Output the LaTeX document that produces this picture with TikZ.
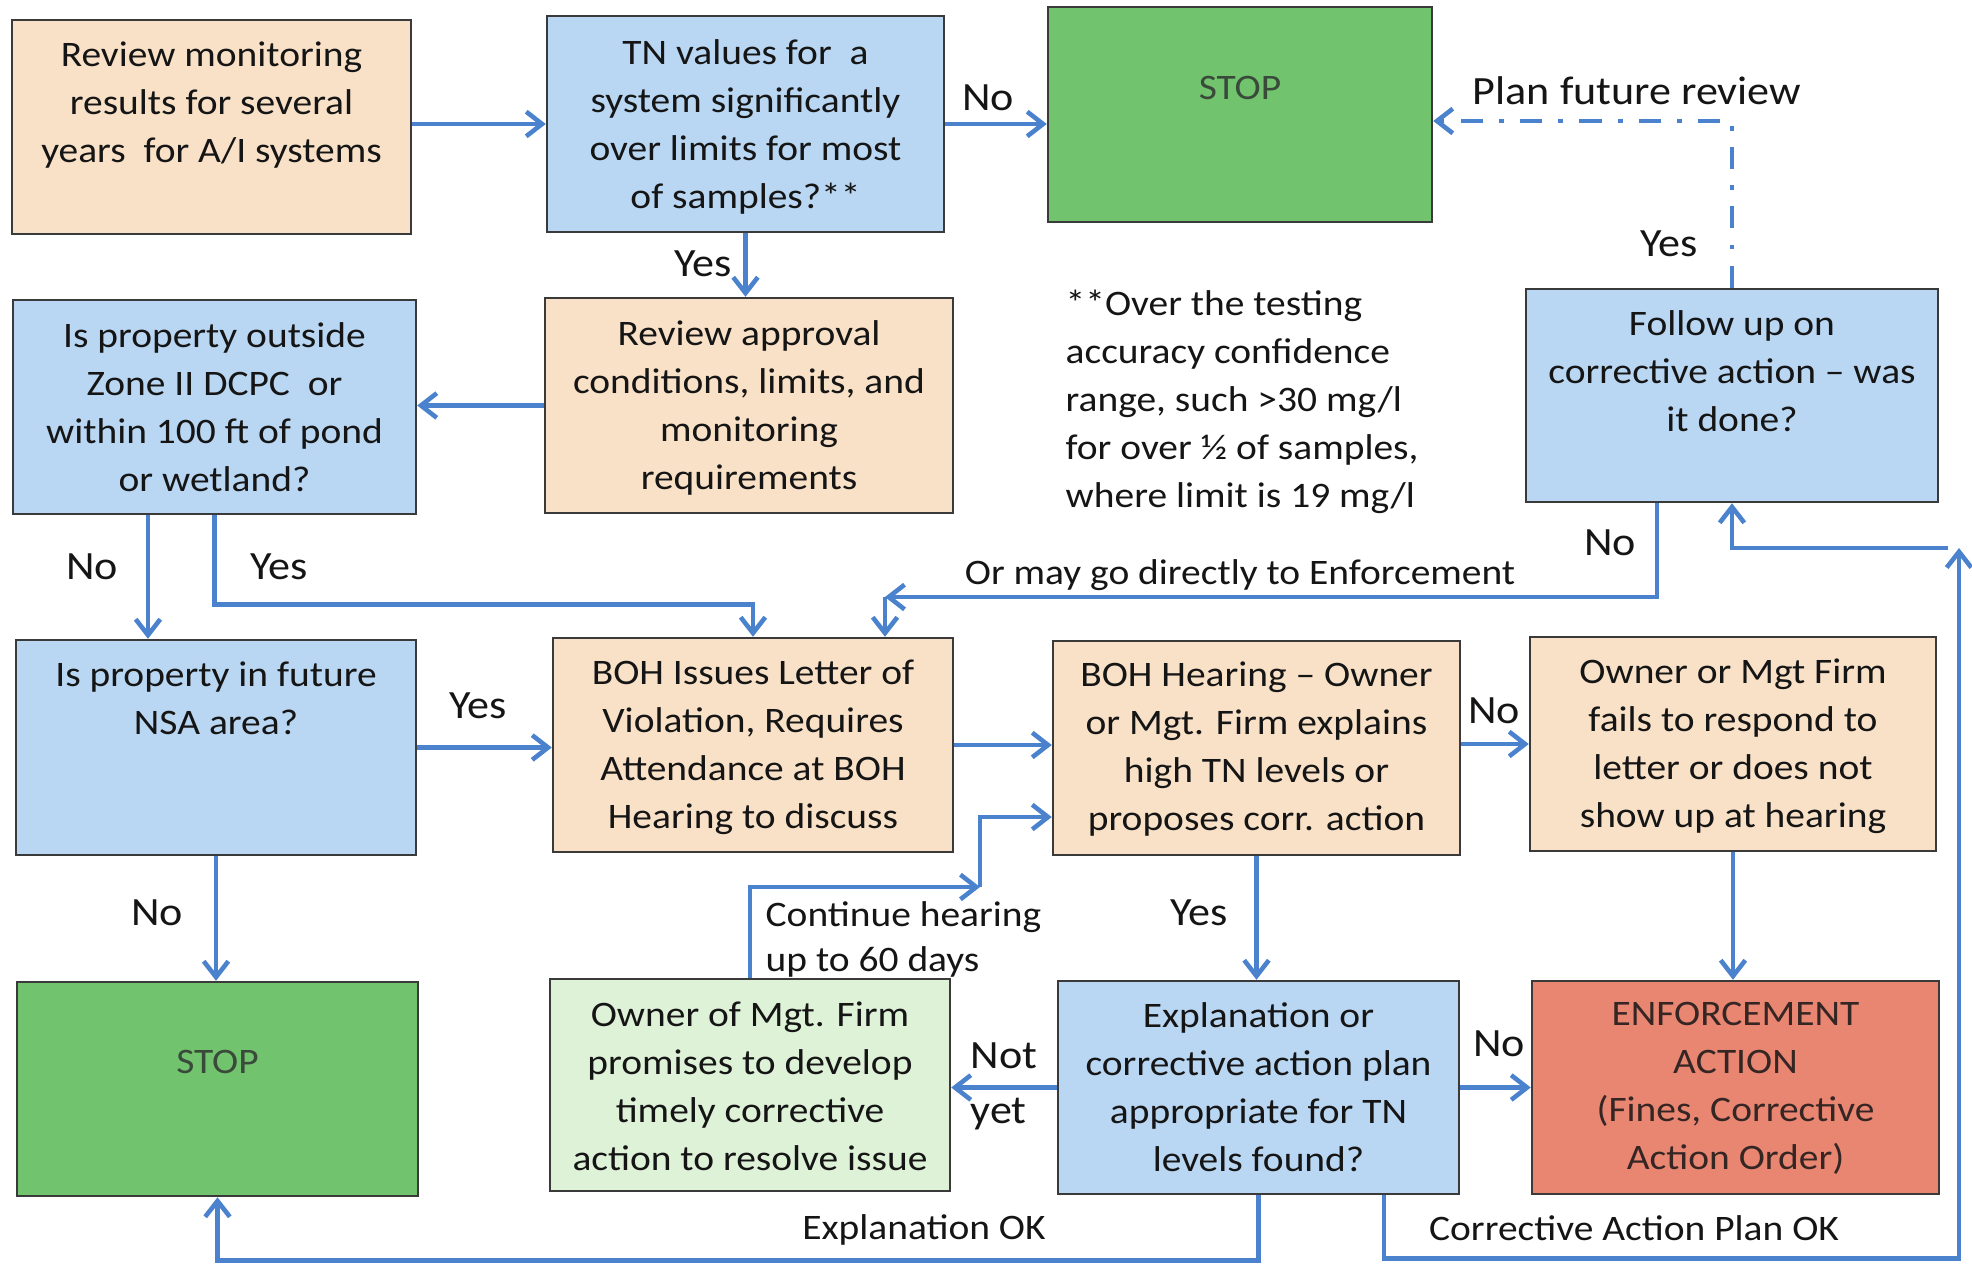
\documentclass[tikz,border=0pt]{standalone}
\usepackage{fontspec}
\setmainfont{Carlito}[FakeStretch=1.1]
\usetikzlibrary{arrows.meta,calc,fit}
\definecolor{peach}{HTML}{F9E1C8}
\definecolor{blu}{HTML}{B9D6F2}
\definecolor{stopg}{HTML}{72C36E}
\definecolor{lgreen}{HTML}{DEF2D8}
\definecolor{enf}{HTML}{E88672}
\definecolor{lineblue}{HTML}{4A82CD}
\definecolor{boxline}{HTML}{3A3A3A}
\definecolor{ink}{HTML}{151515}
\definecolor{stoptext}{HTML}{3A4A3A}
\begin{document}
\begin{tikzpicture}[x=0.01cm,y=-0.01cm,
  box/.style={draw=boxline,line width=0.7pt,inner sep=0pt},
  txt/.style={inner sep=0pt,align=center,text=ink,font=\fontsize{10.2pt}{13.66pt}\selectfont},
  lbl/.style={inner sep=0pt,text=ink,font=\fontsize{11.4pt}{15.7pt}\selectfont},
  arr/.style={draw=lineblue,line width=1.3pt,-{Straight Barb[length=4.5pt,width=7pt]}},
  dashdot/.style={dash pattern=on 6.3pt off 4.6pt on 1.4pt off 4.6pt}]
\path[fill=white] (0,0) rectangle (1972,1263);
\useasboundingbox (0,0) rectangle (1972,1263);

% boxes
\node[box,fill=peach,fit={(12,20)(411,234)}] (A) {};
\node[box,fill=blu,fit={(547,16)(944,232)}] (B) {};
\node[box,fill=stopg,fit={(1048,7)(1432,222)}] (S1) {};
\node[box,fill=peach,fit={(545,298)(953,513)}] (C) {};
\node[box,fill=blu,fit={(13,300)(416,514)}] (D) {};
\node[box,fill=blu,fit={(1526,289)(1938,502)}] (I) {};
\node[box,fill=blu,fit={(16,640)(416,855)}] (E) {};
\node[box,fill=peach,fit={(553,638)(953,852)}] (F) {};
\node[box,fill=peach,fit={(1053,641)(1460,855)}] (G) {};
\node[box,fill=peach,fit={(1530,637)(1936,851)}] (H) {};
\node[box,fill=stopg,fit={(17,982)(418,1196)}] (S2) {};
\node[box,fill=lgreen,fit={(550,979)(950,1191)}] (J) {};
\node[box,fill=blu,fit={(1058,981)(1459,1194)}] (K) {};
\node[box,fill=enf,fit={(1532,981)(1939,1194)}] (L) {};

% box texts
\node[txt,anchor=north] (At) at ([yshift=-0.22cm]A.north) {Review monitoring\\results for several\\years\ \ for A/I systems};
\node[txt,anchor=north] (Bt) at ([yshift=-0.24cm]B.north) {TN values for\ \ a\\system significantly\\over limits for most\\of samples?**};
\node[txt,anchor=north,text=stoptext] (S1t) at ([yshift=-0.70cm]S1.north) {STOP};
\node[txt,anchor=north] (Ct) at ([yshift=-0.23cm]C.north) {Review approval\\conditions, limits, and\\monitoring\\requirements};
\node[txt,anchor=north] (Dt) at ([yshift=-0.23cm]D.north) {Is property outside\\Zone II DCPC\ \ or\\within 100 ft of pond\\or wetland?};
\node[txt,anchor=north] (It) at ([yshift=-0.22cm]I.north) {Follow up on\\corrective action – was\\it done?};
\node[txt,anchor=north] (Et) at ([yshift=-0.22cm]E.north) {Is property in future\\NSA area?};
\node[txt,anchor=north] (Ft) at ([yshift=-0.22cm]F.north) {BOH Issues Letter of\\Violation, Requires\\Attendance at BOH\\Hearing to discuss};
\node[txt,anchor=north] (Gt) at ([yshift=-0.21cm]G.north) {BOH Hearing – Owner\\or Mgt. Firm explains\\high TN levels or\\proposes corr. action};
\node[txt,anchor=north] (Ht) at ([yshift=-0.22cm]H.north) {Owner or Mgt Firm\\fails to respond to\\letter or does not\\show up at hearing};
\node[txt,anchor=north,text=stoptext] (S2t) at ([yshift=-0.69cm]S2.north) {STOP};
\node[txt,anchor=north] (Jt) at ([yshift=-0.23cm]J.north) {Owner of Mgt. Firm\\promises to develop\\timely corrective\\action to resolve issue};
\node[txt,anchor=north] (Kt) at ([yshift=-0.22cm]K.north) {Explanation or\\corrective action plan\\appropriate for TN\\levels found?};
\node[txt,anchor=north,text=ink!85!enf] (Lt) at ([yshift=-0.22cm]L.north) {ENFORCEMENT\\ACTION\\(Fines, Corrective\\Action Order)};

% footnote
\node[txt,align=left,anchor=north west] (note) at (1065,289) {**Over the testing\\accuracy confidence\\range, such >30 mg/l\\for over ½ of samples,\\where limit is 19 mg/l};

% connectors
\draw[arr] (A.east|-B.west) -- (B.west);
\draw[arr] (B.east) -- (B.east-|S1.west);
\draw[arr] (B.south) -- (B.south|-C.north);
\draw[arr] (C.west) -- (C.west-|D.east);
\draw[arr] ([xshift=-0.665cm]D.south) -- ([xshift=-0.665cm]D.south|-E.north);
\draw[arr] (D.south) -- ++(0,89) -| (F.north);
\coordinate (orc) at (885,597);
\draw[arr] ([xshift=-0.75cm]I.south) |- (orc);
\draw[arr] (orc) -- (orc|-F.north);
\draw[arr] (E.east) -- (E.east-|F.west);
\draw[arr] (F.east) -- (F.east-|G.west);
\draw[arr] (G.east|-H.west) -- (H.west);
\draw[arr] (G.south) -- (G.south|-K.north);
\draw[arr] (H.south) -- (H.south|-L.north);
\draw[arr] (K.east) -- (K.east-|L.west);
\draw[arr] (K.west) -- (K.west-|J.east);
\draw[arr] (E.south) -- (E.south|-S2.north);
\coordinate (cont) at (980,887);
\draw[arr] (J.north) |- (cont);
\draw[arr] (cont) |- ([yshift=-0.69cm]G.west);
\draw[arr] (K.south) -- ++(0,65) -| (S2.south);
\coordinate (cap) at (1959,548);
\coordinate (capl) at (1948,548);
\draw[arr] ([xshift=1.255cm]K.south) -- ++(0,63) -| (cap);
\draw[arr] (capl) -| (I.south);
\draw[arr,dashdot] (I.north) |- ([yshift=-0.065cm]S1.east);

% labels
\node[lbl] (l1) at (988,98) {No};
\node[lbl] (l2) at (703,264) {Yes};
\node[lbl] (l3) at (92,567) {No};
\node[lbl] (l4) at (279,567) {Yes};
\node[lbl] (l5) at (478,706) {Yes};
\node[lbl] (l6) at (157,913) {No};
\node[lbl] (l7) at (1610,543) {No};
\node[lbl] (l8) at (1669,244) {Yes};
\node[lbl,anchor=base] (l9) at (1637,104) {Plan future review};
\node[lbl] (l10) at (1494,711) {No};
\node[lbl] (l11) at (1199,913) {Yes};
\node[lbl] (l12) at (1499,1044) {No};
\node[lbl,align=left,anchor=north west] (l13) at (970,1042) {Not\\yet};
\node[txt,anchor=base] (l14) at (1240,584) {Or may go directly to Enforcement};
\node[txt,align=left,anchor=north west,font=\fontsize{10.2pt}{12.8pt}\selectfont] (l15) at (765,901) {Continue hearing\\up to 60 days};
\node[txt,anchor=base] (l16) at (924,1239) {Explanation OK};
\node[txt,anchor=base] (l17) at (1634,1240) {Corrective Action Plan OK};
\end{tikzpicture}
\end{document}
